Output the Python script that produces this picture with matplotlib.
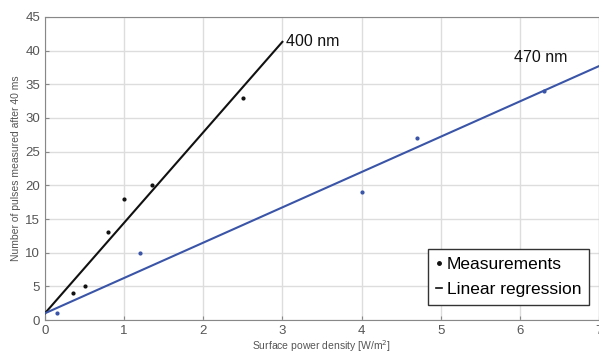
import matplotlib

matplotlib.use("Agg")

import matplotlib.pyplot as plt
from matplotlib.lines import Line2D

# measured points
x_400 = [0.35, 0.5, 0.8, 1.0, 1.35, 2.5]
y_400 = [4, 5, 13, 18, 20, 33]
x_470 = [0.15, 1.2, 4.0, 4.7, 6.3]
y_470 = [1, 10, 19, 27, 34]

# regression line endpoints
fit_x_400 = [0.0, 3.0]
fit_y_400 = [1.0, 41.3]
fit_x_470 = [0.0, 7.0]
fit_y_470 = [1.0, 37.7]

x_ticks = [0, 1, 2, 3, 4, 5, 6, 7]
y_ticks = [0, 5, 10, 15, 20, 25, 30, 35, 40, 45]

plt.rcParams["font.family"] = ["Liberation Sans", "DejaVu Sans"]

fig = plt.figure(figsize=(5.99, 3.6), dpi=100)
ax = fig.add_axes([0.075, 0.111, 0.925, 0.842])

black = "#111111"
blue = "#3a55a8"

ax.plot(fit_x_400, fit_y_400, color=black, linewidth=1.5, zorder=3)
ax.plot(fit_x_470, fit_y_470, color=blue, linewidth=1.5, zorder=3)
ax.plot(x_400, y_400, ".", color=black, markersize=4, zorder=4)
ax.plot(x_470, y_470, ".", color=blue, markersize=4, zorder=4)

ax.text(3.04, 41.3, "400 nm", fontsize=11.5, va="center", ha="left", color="#111111")
ax.text(5.92, 39.0, "470 nm", fontsize=11.5, va="center", ha="left", color="#111111")

ax.set_xlim(0, 7)
ax.set_ylim(0, 45)
ax.set_xticks(x_ticks)
ax.set_yticks(y_ticks)
ax.tick_params(direction="in", labelsize=9.5, labelcolor="#555555", color="#888888", length=3)
ax.grid(True, color="#dddddd", linewidth=1.0)
ax.set_axisbelow(True)
for spine in ax.spines.values():
    spine.set_color("#888888")

ax.set_xlabel("Surface power density [W/m$^2$]", fontsize=7.5, color="#555555", labelpad=1)
ax.set_ylabel("Number of pulses measured after 40 ms", fontsize=7.5, color="#555555", labelpad=3)

handles = [
    Line2D([], [], linestyle="none", marker=".", color=black, markersize=5),
    Line2D([], [], linestyle="-", color=black, linewidth=1.2),
]
leg = ax.legend(
    handles,
    ["Measurements", "Linear regression"],
    loc="lower right",
    fontsize=12.5,
    handlelength=0.35,
    handletextpad=0.3,
    borderpad=0.45,
    labelspacing=0.6,
    fancybox=False,
    framealpha=1.0,
    bbox_to_anchor=(0.998, 0.02),
)
leg.get_frame().set_edgecolor("#333333")
leg.get_frame().set_linewidth(1.0)

fig.savefig("out.png", dpi=100)
